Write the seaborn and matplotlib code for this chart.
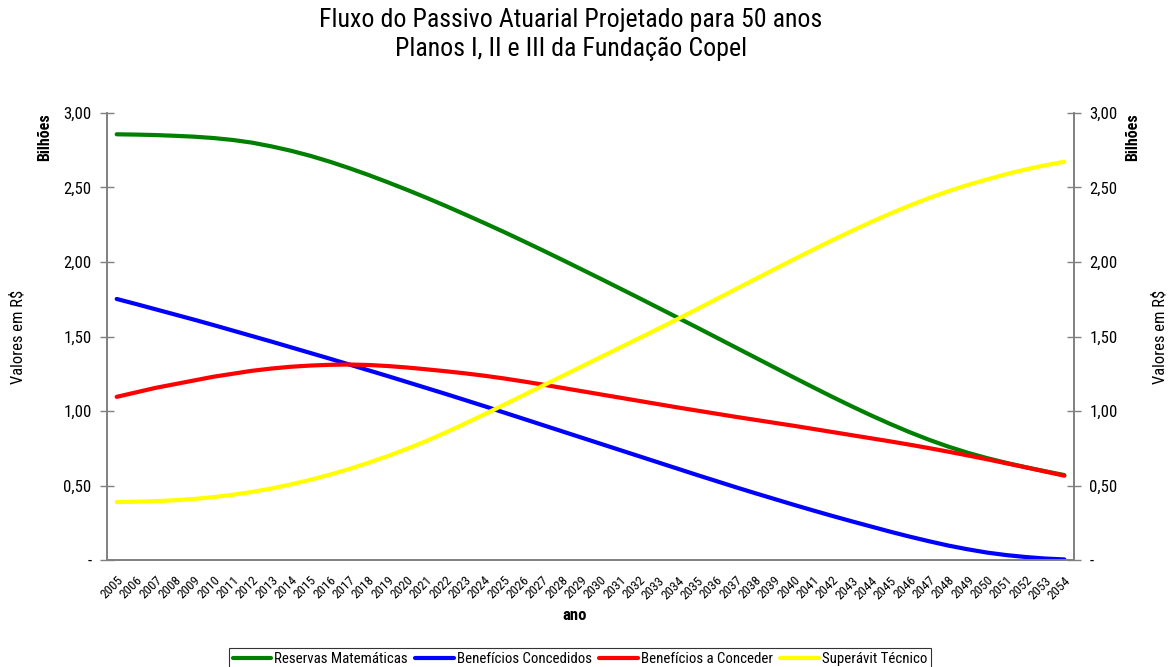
import matplotlib
matplotlib.use("Agg")
import numpy as np
import pandas as pd
import matplotlib.pyplot as plt
from matplotlib import font_manager
import seaborn as sns

# Projected actuarial liability flows, billions of R$
years = list(range(2005, 2055))

reservas_matematicas = [
    2.857, 2.855, 2.852, 2.847, 2.841, 2.832, 2.819, 2.801, 2.776, 2.747,
    2.713, 2.674, 2.631, 2.585, 2.536, 2.485, 2.432, 2.377, 2.320, 2.262,
    2.203, 2.142, 2.080, 2.017, 1.953, 1.889, 1.824, 1.759, 1.693, 1.627,
    1.561, 1.494, 1.427, 1.360, 1.293, 1.226, 1.160, 1.095, 1.032, 0.971,
    0.913, 0.858, 0.807, 0.761, 0.720, 0.684, 0.652, 0.623, 0.596, 0.570,
]
beneficios_concedidos = [
    1.752, 1.718, 1.683, 1.648, 1.613, 1.577, 1.540, 1.503, 1.466, 1.428,
    1.390, 1.352, 1.313, 1.274, 1.235, 1.195, 1.155, 1.115, 1.074, 1.033,
    0.991, 0.949, 0.907, 0.865, 0.823, 0.781, 0.739, 0.697, 0.655, 0.613,
    0.571, 0.530, 0.489, 0.449, 0.410, 0.371, 0.333, 0.296, 0.260, 0.225,
    0.190, 0.157, 0.126, 0.097, 0.072, 0.050, 0.033, 0.020, 0.010, 0.004,
]
beneficios_a_conceder = [
    1.095, 1.125, 1.155, 1.180, 1.205, 1.230, 1.250, 1.270, 1.285, 1.297,
    1.305, 1.310, 1.312, 1.309, 1.302, 1.292, 1.280, 1.267, 1.253, 1.237,
    1.219, 1.199, 1.178, 1.156, 1.134, 1.112, 1.090, 1.068, 1.046, 1.024,
    1.003, 0.982, 0.961, 0.941, 0.921, 0.901, 0.880, 0.859, 0.838, 0.817,
    0.796, 0.774, 0.751, 0.727, 0.702, 0.676, 0.649, 0.622, 0.594, 0.566,
]
superavit_tecnico = [
    0.389, 0.391, 0.395, 0.401, 0.410, 0.422, 0.438, 0.457, 0.480, 0.507,
    0.538, 0.572, 0.610, 0.652, 0.697, 0.746, 0.798, 0.855, 0.915, 0.977,
    1.040, 1.104, 1.168, 1.232, 1.296, 1.360, 1.424, 1.488, 1.552, 1.617,
    1.683, 1.750, 1.817, 1.884, 1.951, 2.017, 2.082, 2.146, 2.208, 2.268,
    2.325, 2.379, 2.429, 2.475, 2.517, 2.554, 2.590, 2.621, 2.649, 2.673,
]

series_names = ["Reservas Matemáticas", "Benefícios Concedidos",
                "Benefícios a Conceder", "Superávit Técnico"]
series_colors = ["#008000", "#0000FF", "#FF0000", "#FFFF00"]
y_ticks = [0.0, 0.5, 1.0, 1.5, 2.0, 2.5, 3.0]
y_tick_labels = ["-", "0,50", "1,00", "1,50", "2,00", "2,50", "3,00"]

sns.set_theme(style="white")

# prefer a narrow sans face when one is installed
available = {f.name for f in font_manager.fontManager.ttflist}
narrow = next((n for n in ["Liberation Sans Narrow", "Arial Narrow",
                           "Roboto Condensed", "Open Sans Condensed",
                           "DejaVu Sans Condensed"] if n in available), None)
if narrow:
    plt.rcParams["font.family"] = [narrow, "Liberation Sans", "DejaVu Sans"]
    fs = 1.15
else:
    plt.rcParams["font.family"] = ["Liberation Sans", "DejaVu Sans"]
    fs = 1.0
plt.rcParams["text.color"] = "black"
plt.rcParams["xtick.color"] = "black"
plt.rcParams["ytick.color"] = "black"

positions = list(range(len(years)))
frames = []
for name, values in zip(series_names,
                        [reservas_matematicas, beneficios_concedidos,
                         beneficios_a_conceder, superavit_tecnico]):
    frames.append(pd.DataFrame({"pos": positions, "valor": values, "serie": name}))
df = pd.concat(frames, ignore_index=True)

fig = plt.figure(figsize=(11.72, 6.67), dpi=100)
ax = fig.add_axes([0.0913, 0.1604, 0.8251, 0.6702])

sns.lineplot(data=df, x="pos", y="valor", hue="serie", hue_order=series_names,
             palette=series_colors, linewidth=3.0, ax=ax, legend=False)

axis_gray = "#808080"
ax.set_xlim(-0.5, len(years) - 0.5)
ax.set_ylim(0, 3)

# category boundaries carry the tick marks, centres carry the year labels
ax.set_xticks(np.arange(-0.5, len(years), 1.0))
ax.tick_params(axis="x", which="major", direction="inout", length=10,
               width=1, color=axis_gray, labelbottom=False)
ax.set_xticks(positions, minor=True)
ax.set_xticklabels([str(y) for y in years], minor=True, rotation=45,
                   ha="right", rotation_mode="anchor", fontsize=8.3 * fs,
                   color="black")
ax.tick_params(axis="x", which="minor", length=0, pad=10)

ax.set_yticks(y_ticks)
ax.set_yticklabels(y_tick_labels, fontsize=10.5 * fs, color="black")
ax.tick_params(axis="y", direction="inout", length=10, width=1,
               color=axis_gray, pad=6)
ax.set_xlabel("")
ax.set_ylabel("")

ax2 = ax.twinx()
ax2.set_ylim(0, 3)
ax2.set_yticks(y_ticks)
ax2.set_yticklabels(y_tick_labels, fontsize=10.5 * fs, color="black")
ax2.tick_params(axis="y", direction="inout", length=10, width=1,
                color=axis_gray, pad=6)

for a in (ax, ax2):
    a.spines["top"].set_visible(False)
    for side in ("left", "right", "bottom"):
        a.spines[side].set_color(axis_gray)
        a.spines[side].set_linewidth(1.2)

# titles and axis captions
fig.text(0.487, 1 - 20 / 667, "Fluxo do Passivo Atuarial Projetado para 50 anos",
         ha="center", va="center", fontsize=16.2 * fs, color="black")
fig.text(0.487, 1 - 49 / 667, "Planos I, II e III da Fundação Copel",
         ha="center", va="center", fontsize=16.2 * fs, color="black")
fig.text(45 / 1172, 1 - 137 / 667, "Bilhões", rotation=90, ha="center",
         va="center", fontsize=10 * fs, fontweight="bold")
fig.text(1133 / 1172, 1 - 137 / 667, "Bilhões", rotation=90, ha="center",
         va="center", fontsize=10 * fs, fontweight="bold")
fig.text(18 / 1172, 1 - 337 / 667, "Valores em R$", rotation=90, ha="center",
         va="center", fontsize=10.3 * fs)
fig.text(1160 / 1172, 1 - 337 / 667, "Valores em R$", rotation=90, ha="center",
         va="center", fontsize=10.3 * fs)
fig.text(575 / 1172, 1 - 616 / 667, "ano", ha="center", va="center",
         fontsize=10.5 * fs, fontweight="bold")

leg = fig.legend(handles=ax.lines[:4], labels=series_names, loc="lower center",
                 bbox_to_anchor=(580 / 1172, -0.004), ncol=4, frameon=True,
                 fancybox=False, edgecolor="black", fontsize=9.3 * fs,
                 handlelength=2.6, handletextpad=0.2, columnspacing=0.5,
                 borderpad=0.25, borderaxespad=0.0)
leg.get_frame().set_linewidth(0.8)
for t in leg.get_texts():
    t.set_color("black")

fig.savefig("out.png", dpi=100)
